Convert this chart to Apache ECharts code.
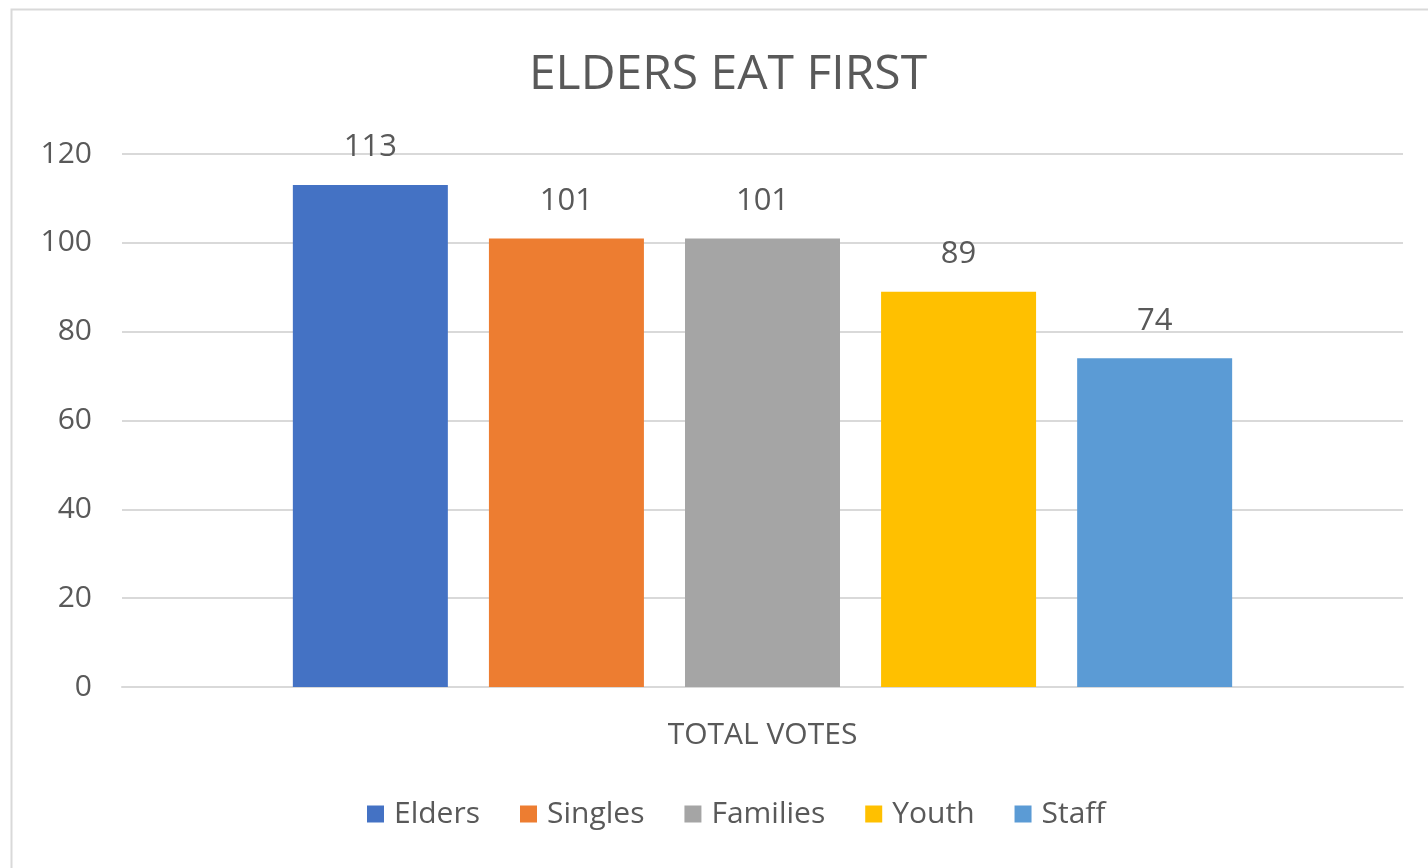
<!DOCTYPE html>
<html>
<head>
<meta charset="utf-8">
<script src="https://cdn.jsdelivr.net/npm/echarts@6/dist/echarts.min.js"></script>
<style>html,body{margin:0;padding:0;background:#fff}#c{width:1428px;height:868px}</style>
</head>
<body>
<div id="c"></div>
<script>
const titleText = 'ELDERS EAT FIRST';
const categories = ['TOTAL VOTES'];
const seriesNames = ['Elders', 'Singles', 'Families', 'Youth', 'Staff'];
const seriesValues = [113, 101, 101, 89, 74];
const seriesColors = ['#4472C4', '#ED7D31', '#A5A5A5', '#FFC000', '#5B9BD5'];
const yTicks = [0, 20, 40, 60, 80, 100, 120];

const FONT = '"Open Sans", sans-serif';
const TXT = '#595959';

const chart = echarts.init(document.getElementById('c'), null, {renderer: 'canvas'});
chart.setOption({
  backgroundColor: '#fff',
  animation: false,
  title: {
    text: titleText, left: 723, textAlign: 'center', top: 46,
    textStyle: {fontFamily: FONT, fontSize: 48, fontWeight: 'normal', color: TXT}
  },
  graphic: [{
    type: 'rect', left: 9, top: 7, z: -1,
    shape: {width: 1440, height: 880},
    style: {fill: 'none', stroke: '#D9D9D9', lineWidth: 2}
  }],
  legend: {
    bottom: 34, left: 362, itemWidth: 17, itemHeight: 17, itemGap: 40,
    icon: 'rect',
    textStyle: {fontFamily: FONT, fontSize: 30, color: TXT, padding: [0, 0, 0, 5]},
    data: seriesNames
  },
  grid: {left: 122, right: 25, top: 154, bottom: 181},
  xAxis: {
    type: 'category', data: categories,
    axisLine: {lineStyle: {color: '#D9D9D9', width: 2}},
    axisTick: {show: false},
    axisLabel: {fontFamily: FONT, fontSize: 30, color: TXT, margin: 33}
  },
  yAxis: {
    type: 'value', min: yTicks[0], max: yTicks[yTicks.length - 1], interval: 20,
    axisLine: {show: false}, axisTick: {show: false},
    splitLine: {lineStyle: {color: '#D9D9D9', width: 2}},
    axisLabel: {fontFamily: FONT, fontSize: 30, color: TXT, margin: 30}
  },
  series: seriesNames.map((n, i) => ({
    name: n, type: 'bar', data: [seriesValues[i]],
    barWidth: 155, barGap: '26.5%',
    itemStyle: {color: seriesColors[i]},
    label: {show: true, position: 'top', distance: 22, fontFamily: FONT, fontSize: 31, color: TXT}
  }))
});
</script>
</body>
</html>
